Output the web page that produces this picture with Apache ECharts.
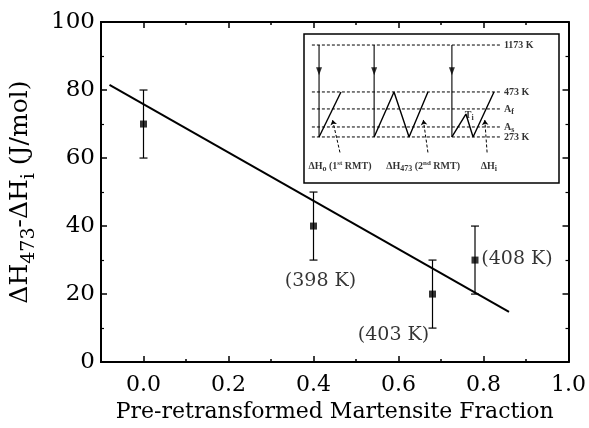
<!DOCTYPE html>
<html>
<head>
<meta charset="utf-8">
<script src="https://cdn.jsdelivr.net/npm/echarts@6/dist/echarts.min.js"></script>
<style>
html, body { margin: 0; padding: 0; background: #fff; }
#main { width: 589px; height: 428px; }
</style>
</head>
<body>
<div id="main"></div>
<script>
// main plot
var fraction = [0.0, 0.4, 0.68, 0.78];
var dH = [70, 40, 20, 30];
var errLow = [60, 30, 10, 20];
var errHigh = [80, 50, 30, 40];
var tempLabels = ['', '(398 K)', '(403 K)', '(408 K)'];
var fitX = [-0.08, 0.86];
var fitY = [81.5, 14.8];
var xTicks = [0, 0.2, 0.4, 0.6, 0.8, 1.0];
var xMinorTicks = [0.1, 0.3, 0.5, 0.7, 0.9];

// inset (schematic, arbitrary 0-100 units)
var levelY = [92.6, 61.1, 49.7, 37.6, 30.9];
var levelNames = ['1173 K', '473 K', 'A{s|f}', 'A{s|s}', '273 K'];
var levelX = [3.1, 76.9];
var quenchX = [5.9, 27.5, 58];
var zig1X = [5.9, 14.5];
var zig1Y = [30.9, 61.1];
var zig2X = [27.5, 35.3, 41.2, 48.6];
var zig2Y = [30.9, 61.1, 30.9, 61.1];
var zig3X = [58, 63.5, 66.3, 74.5];
var zig3Y = [30.9, 46.3, 30.9, 61.1];
var pointerFrom = [[14.1, 20.5], [48.6, 20.5], [71.8, 20.5]];
var pointerTo = [[11.2, 42.3], [46.8, 42.3], [70.9, 42.3]];
var bottomLabelX = [14.1, 46.7, 72.5];
var bottomLabelY = 11.4;
var bottomLabels = ['ΔH{s|o} (1{p|st} RMT)', 'ΔH{s|473} (2{p|nd} RMT)', 'ΔH{s|i}'];
var tiPos = [64.8, 45.5];

var serif = 'DejaVu Serif';
var inFont = 'Liberation Serif';

function pairs(xs, ys) {
    return xs.map(function (x, i) { return [x, ys[i]]; });
}

function renderErr(params, api) {
    var x = api.value(0);
    var lo = api.coord([x, api.value(1)]);
    var hi = api.coord([x, api.value(2)]);
    var w = 4;
    var st = { stroke: '#000', lineWidth: 1.2 };
    return {
        type: 'group',
        children: [
            { type: 'line', shape: { x1: lo[0], y1: lo[1], x2: hi[0], y2: hi[1] }, style: st },
            { type: 'line', shape: { x1: lo[0] - w, y1: lo[1], x2: lo[0] + w, y2: lo[1] }, style: st },
            { type: 'line', shape: { x1: hi[0] - w, y1: hi[1], x2: hi[0] + w, y2: hi[1] }, style: st }
        ]
    };
}

var axisLine = { show: true, onZero: false, lineStyle: { color: '#000', width: 2 } };

function xAx(pos, ticks, len, labels) {
    return {
        type: 'value', gridIndex: 0, position: pos, min: -0.1, max: 1.0,
        axisLine: axisLine,
        axisTick: { show: true, inside: true, length: len, customValues: ticks, lineStyle: { color: '#000', width: 1.5 } },
        axisLabel: labels ? {
            show: true, customValues: ticks, margin: 12, color: '#000',
            fontFamily: serif, fontSize: 22,
            formatter: function (v) { return v.toFixed(1); }
        } : { show: false },
        splitLine: { show: false }
    };
}

function yAx(pos, labels) {
    return {
        type: 'value', gridIndex: 0, position: pos, min: 0, max: 100, interval: 20,
        axisLine: axisLine,
        axisTick: { show: true, inside: true, length: 6, lineStyle: { color: '#000', width: 1.5 } },
        minorTick: { show: true, splitNumber: 2, length: 3, lineStyle: { color: '#000', width: 1.2 } },
        axisLabel: labels ? { show: true, margin: 6, color: '#000', fontFamily: serif, fontSize: 23 } : { show: false },
        splitLine: { show: false }
    };
}

var xMain = xAx('bottom', xTicks, 6, true);
xMain.name = 'Pre-retransformed Martensite Fraction';
xMain.nameLocation = 'middle';
xMain.nameGap = 36;
xMain.nameTextStyle = { color: '#000', fontFamily: serif, fontSize: 22 };

var yMain = yAx('left', true);
yMain.name = 'ΔH{s|473}-ΔH{s|i} (J/mol)';
yMain.nameLocation = 'middle';
yMain.nameGap = 62;
yMain.nameTextStyle = {
    color: '#000', fontFamily: serif, fontSize: 25,
    rich: { s: { fontFamily: serif, fontSize: 19, padding: [18, 0, 0, 0] } }
};

var inRich = {
    s: { fontFamily: inFont, fontSize: 8, padding: [6, 0, 0, 0], color: '#000' },
    p: { fontFamily: inFont, fontSize: 7, padding: [0, 0, 6, 0], color: '#000' }
};
var inLabelStyle = { color: '#000', fontFamily: inFont, fontSize: 10, fontWeight: 'bold', rich: inRich };

var series = [
    {
        type: 'custom', xAxisIndex: 0, yAxisIndex: 0, renderItem: renderErr,
        data: fraction.map(function (x, i) { return [x, errLow[i], errHigh[i]]; }), z: 3
    },
    {
        type: 'line', xAxisIndex: 0, yAxisIndex: 0, data: pairs(fitX, fitY),
        showSymbol: false, lineStyle: { color: '#000', width: 2 }, z: 2
    },
    {
        type: 'scatter', xAxisIndex: 0, yAxisIndex: 0, symbol: 'rect', symbolSize: 7,
        itemStyle: { color: '#000' }, z: 4,
        data: fraction.map(function (x, i) {
            var off = [[0, 0], [7, 55], [-39, 41], [42, -1]][i];
            return {
                value: [x, dH[i]],
                label: {
                    show: tempLabels[i] !== '', position: 'inside', offset: off,
                    formatter: tempLabels[i], color: '#000', fontFamily: serif, fontSize: 19
                }
            };
        })
    }
];

var inLine = function (data, opts) {
    return Object.assign({
        type: 'line', xAxisIndex: 4, yAxisIndex: 2, data: data, showSymbol: false,
        lineStyle: { color: '#000', width: 1.4 }, silent: true, z: 5
    }, opts || {});
};

levelY.forEach(function (y) {
    series.push(inLine(levelX.map(function (x) { return [x, y]; }),
        { lineStyle: { color: '#000', width: 1, type: [3, 2] } }));
});
quenchX.forEach(function (x) {
    series.push(inLine([[x, levelY[0]], [x, levelY[4]]], { lineStyle: { color: '#000', width: 1.1 } }));
});
series.push(inLine(pairs(zig1X, zig1Y)));
series.push(inLine(pairs(zig2X, zig2Y)));
series.push(inLine(pairs(zig3X, zig3Y)));

// quench arrowheads
series.push({
    type: 'scatter', xAxisIndex: 4, yAxisIndex: 2, symbol: 'triangle', symbolRotate: 180,
    symbolSize: [6, 8], itemStyle: { color: '#000' }, silent: true, z: 6,
    data: quenchX.map(function (x) { return [x, 75]; })
});

// dashed pointers
series.push({
    type: 'line', xAxisIndex: 4, yAxisIndex: 2, data: [], silent: true,
    markLine: {
        silent: true, symbol: ['none', 'arrow'], symbolSize: 5,
        lineStyle: { color: '#000', width: 1, type: [3, 2] },
        label: { show: false }, animation: false,
        data: pointerFrom.map(function (p, i) { return [{ coord: p }, { coord: pointerTo[i] }]; })
    }
});

// level labels
series.push({
    type: 'scatter', xAxisIndex: 4, yAxisIndex: 2, symbolSize: 0, silent: true, z: 6,
    data: levelY.map(function (y) { return [levelX[1] + 1.5, y]; }),
    label: Object.assign({
        show: true, position: 'right', distance: 0,
        formatter: function (p) { return levelNames[p.dataIndex]; }
    }, inLabelStyle)
});

// bottom labels
series.push({
    type: 'scatter', xAxisIndex: 4, yAxisIndex: 2, symbolSize: 0, silent: true, z: 6,
    data: bottomLabelX.map(function (x) { return [x, bottomLabelY]; }),
    label: Object.assign({
        show: true, position: 'inside',
        formatter: function (p) { return bottomLabels[p.dataIndex]; }
    }, inLabelStyle)
});

// Ti label
series.push({
    type: 'scatter', xAxisIndex: 4, yAxisIndex: 2, symbolSize: 0, silent: true, z: 6,
    data: [tiPos],
    label: Object.assign({ show: true, position: 'inside', formatter: 'T{s|i}' }, inLabelStyle)
});

var option = {
    animation: false,
    backgroundColor: '#fff',
    grid: [
        { left: 101, top: 22, right: 20, bottom: 64 },
        { left: 304, top: 34, width: 255, height: 149, show: true, backgroundColor: '#fff',
          borderColor: '#000', borderWidth: 1.5, z: 4 }
    ],
    xAxis: [
        xMain,
        xAx('top', xTicks, 6, false),
        xAx('bottom', xMinorTicks, 3, false),
        xAx('top', xMinorTicks, 3, false),
        { type: 'value', gridIndex: 1, min: 0, max: 100, show: false }
    ],
    yAxis: [
        yMain,
        yAx('right', false),
        { type: 'value', gridIndex: 1, min: 0, max: 100, show: false }
    ],
    series: series
};

var chart = echarts.init(document.getElementById('main'));
chart.setOption(option);
</script>
</body>
</html>
